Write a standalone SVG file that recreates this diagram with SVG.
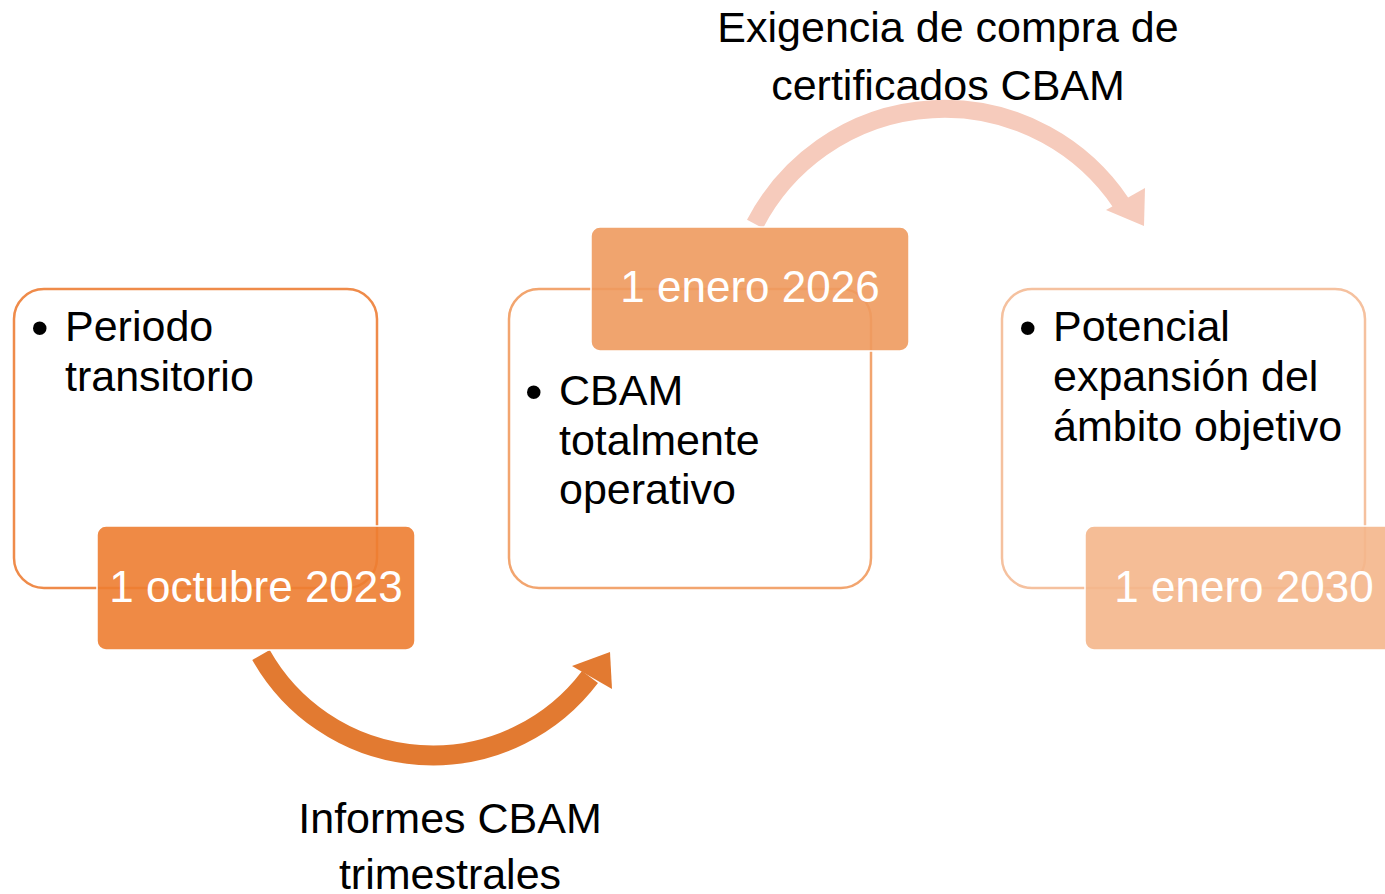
<svg xmlns="http://www.w3.org/2000/svg" width="1385" height="894" viewBox="0 0 1385 894">
<style>
.txt{font-family:"Liberation Sans",Arial,sans-serif;font-size:43px;fill:#000}
.bul{font-family:"Liberation Sans",Arial,sans-serif;font-size:50px;fill:#000}
.lbl{font-family:"Liberation Sans",Arial,sans-serif;font-size:44px;fill:#fff;text-anchor:middle}
.box{fill:#fff;stroke-width:2.5}
.tag{stroke:#fff;stroke-width:1.5;fill-opacity:0.9}
.cap{font-family:"Liberation Sans",Arial,sans-serif;font-size:43px;fill:#000;text-anchor:middle}
</style>
<rect width="1385" height="894" fill="#fff"/>
<g id="connectors">
  <g id="arrow-bottom">
    <path d="M 261 655 A 197 197 0 0 0 590 677" fill="none" stroke="#E27A31" stroke-width="20"/>
    <polygon points="610,652 572,666 612,689" fill="#E27A31"/>
  </g>
  <g id="arrow-top">
    <path d="M 755 224 A 213 213 0 0 1 1121 203" fill="none" stroke="#F6CBBC" stroke-width="18"/>
    <polygon points="1144,226 1145,188 1106,210" fill="#F6CBBC"/>
  </g>
</g>
<g id="node1">
  <rect class="box" x="14" y="289" width="363" height="299" rx="30" stroke="#EF8B4A"/>
  <text class="bul" x="31" y="345">•</text>
  <text class="txt" x="65" y="341">Periodo</text>
  <text class="txt" x="65" y="391">transitorio</text>
</g>
<g id="label1">
  <rect class="tag" x="97" y="526" width="318" height="124" rx="9" fill="#ED7D31"/>
  <text class="lbl" x="256" y="602">1 octubre 2023</text>
</g>
<g id="node2">
  <rect class="box" x="509" y="289" width="362" height="299" rx="30" stroke="#F2A56F"/>
  <text class="bul" x="525" y="409">•</text>
  <text class="txt" x="559" y="405">CBAM</text>
  <text class="txt" x="559" y="455">totalmente</text>
  <text class="txt" x="559" y="504">operativo</text>
</g>
<g id="label2">
  <rect class="tag" x="591" y="227" width="318" height="124" rx="9" fill="#EE9A5E"/>
  <text class="lbl" x="750" y="302">1 enero 2026</text>
</g>
<g id="node3">
  <rect class="box" x="1002" y="289" width="363" height="299" rx="30" stroke="#F5C19F"/>
  <text class="bul" x="1019" y="345">•</text>
  <text class="txt" x="1053" y="341">Potencial</text>
  <text class="txt" x="1053" y="391">expansión del</text>
  <text class="txt" x="1053" y="441">ámbito objetivo</text>
</g>
<g id="label3">
  <rect class="tag" x="1085" y="526" width="318" height="124" rx="9" fill="#F4B68B"/>
  <text class="lbl" x="1244" y="602">1 enero 2030</text>
</g>
<g id="caption-top">
  <text class="cap" x="948" y="42">Exigencia de compra de</text>
  <text class="cap" x="948" y="100">certificados CBAM</text>
</g>
<g id="caption-bottom">
  <text class="cap" x="450" y="833">Informes CBAM</text>
  <text class="cap" x="450" y="889">trimestrales</text>
</g>
</svg>
